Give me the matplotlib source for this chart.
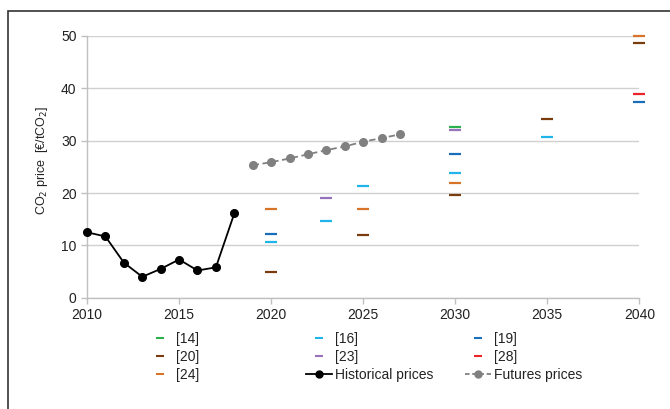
import numpy as np
import matplotlib.pyplot as plt
from matplotlib.lines import Line2D
from matplotlib.patches import Rectangle

plt.rcParams['font.family'] = ['Liberation Sans', 'DejaVu Sans']

# historical and futures prices
hist_years = [2010, 2011, 2012, 2013, 2014, 2015, 2016, 2017, 2018]
hist_price = [12.5, 11.7, 6.7, 4.0, 5.5, 7.3, 5.2, 5.8, 16.1]
fut_years = [2019, 2020, 2021, 2022, 2023, 2024, 2025, 2026, 2027]
fut_price = [25.3, 25.9, 26.6, 27.4, 28.2, 28.9, 29.8, 30.5, 31.2]

# scenario projections per reference
refs = ['[14]', '[16]', '[19]', '[20]', '[23]', '[28]', '[24]']
ref_colors = {'[14]': '#2bb24c', '[16]': '#1fb5ea', '[19]': '#1a6fbd',
              '[20]': '#7a3c0e', '[23]': '#9673bb', '[28]': '#ea2427',
              '[24]': '#d8742a'}
ref_years = {
    '[14]': [2030],
    '[16]': [2020, 2023, 2025, 2030, 2035],
    '[19]': [2020, 2030, 2040],
    '[20]': [2020, 2025, 2030, 2035, 2040],
    '[23]': [2023, 2030],
    '[28]': [2040],
    '[24]': [2020, 2025, 2030, 2040],
}
ref_vals = {
    '[14]': [32.7],
    '[16]': [10.6, 14.6, 21.3, 23.9, 30.7],
    '[19]': [12.1, 27.5, 37.4],
    '[20]': [5.0, 11.9, 19.7, 34.2, 48.7],
    '[23]': [19.1, 32.1],
    '[28]': [38.9],
    '[24]': [17.0, 17.0, 22.0, 50.0],
}

fig = plt.figure(figsize=(6.7, 4.09), dpi=100)
ax = fig.add_axes([0.1299, 0.2721, 0.8243, 0.6399])

for r in refs:
    ax.plot(ref_years[r], ref_vals[r], linestyle='none', marker='_',
            markersize=8.8, markeredgewidth=1.6, color=ref_colors[r],
            clip_on=False, zorder=3)

ax.plot(hist_years, hist_price, color='black', lw=1.3, marker='o',
        markersize=5.5, clip_on=False, zorder=4)
ax.plot(fut_years, fut_price, color='#808080', lw=1.3, ls=(0, (3.5, 2)),
        marker='o', markersize=5.5, zorder=4)

ax.set_xlim(2010, 2040)
ax.set_ylim(0, 50)
ax.set_xticks(range(2010, 2041, 5))
ax.set_yticks(range(0, 51, 10))
ax.yaxis.grid(True, color='#d0d0d0', lw=1.0)
ax.set_axisbelow(True)
for s in ['top', 'right']:
    ax.spines[s].set_visible(False)
for s in ['left', 'bottom']:
    ax.spines[s].set_color('#c0c0c0')
    ax.spines[s].set_linewidth(1.0)
ax.tick_params(axis='both', colors='#c0c0c0', labelcolor='#222222',
               labelsize=10, length=4, width=1.0)
ax.set_ylabel('CO$_2$ price  [€/tCO$_2$]', fontsize=9, color='#222222')
ax.yaxis.set_label_coords(-0.067, 0.526)

# legend, three evenly spaced columns
def dash(c):
    return Line2D([], [], color=c, marker='_', linestyle='none',
                  markersize=6, markeredgewidth=1.5)

h_hist = Line2D([], [], color='black', lw=1.3, marker='o', markersize=5)
h_fut = Line2D([], [], color='#808080', lw=1.3, ls=(0, (2.5, 1.5)),
               marker='o', markersize=5)
columns = [
    ([dash(ref_colors['[14]']), dash(ref_colors['[20]']), dash(ref_colors['[24]'])],
     ['[14]', '[20]', '[24]']),
    ([dash(ref_colors['[16]']), dash(ref_colors['[23]']), h_hist],
     ['[16]', '[23]', 'Historical prices']),
    ([dash(ref_colors['[19]']), dash(ref_colors['[28]']), h_fut],
     ['[19]', '[28]', 'Futures prices']),
]
x_starts = [147, 306, 465]
for (hs, ls), x0 in zip(columns, x_starts):
    fig.legend(hs, ls, loc='upper left',
               bbox_to_anchor=(x0 / 670, 1 - 332 / 409),
               frameon=False, fontsize=10, handlelength=1.87,
               handletextpad=0.25, labelspacing=0.3, borderpad=0,
               borderaxespad=0, labelcolor='#222222')

# outer frame
fig.patches.append(Rectangle((8 / 670, -0.1), 1.2, 1 - 10.5 / 409 + 0.1,
                             transform=fig.transFigure, fill=False,
                             edgecolor='#333333', lw=1.2))

fig.savefig('out.png', dpi=100)
